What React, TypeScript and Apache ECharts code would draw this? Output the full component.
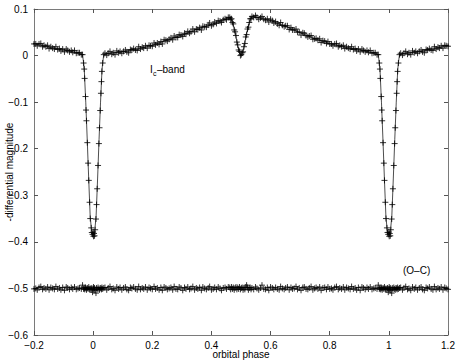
import React, { useEffect, useRef } from "react";
import * as echarts from "echarts";

// ---- model light curve (one cycle, phase -0.04 .. 0.96) ----
const modelPhase = [-0.04, -0.036, -0.033, -0.03, -0.025, -0.02, -0.015, -0.01, -0.006, -0.003, 0, 0.003, 0.006, 0.01, 0.015, 0.02, 0.025, 0.03, 0.033, 0.036, 0.045, 0.07, 0.1, 0.15, 0.2, 0.25, 0.3, 0.35, 0.4, 0.44, 0.46, 0.465, 0.47, 0.475, 0.48, 0.485, 0.49, 0.495, 0.5, 0.505, 0.51, 0.515, 0.52, 0.525, 0.53, 0.535, 0.54, 0.55, 0.6, 0.65, 0.7, 0.75, 0.8, 0.85, 0.9, 0.95, 0.96];
const modelMag = [0.004, 0.002, -0.012, -0.03, -0.1, -0.18, -0.265, -0.345, -0.372, -0.382, -0.385, -0.382, -0.372, -0.345, -0.265, -0.18, -0.1, -0.03, -0.012, 0.002, 0.004, 0.006, 0.008, 0.014, 0.022, 0.033, 0.044, 0.056, 0.067, 0.076, 0.08, 0.08, 0.074, 0.064, 0.05, 0.034, 0.018, 0.006, 0.001, 0.006, 0.018, 0.034, 0.05, 0.064, 0.075, 0.082, 0.084, 0.083, 0.075, 0.063, 0.049, 0.036, 0.026, 0.018, 0.012, 0.006, 0.004];

// ---- observations: primary eclipse ----
const eclPhase = [-0.0358, -0.0323, -0.0302, -0.0287, -0.0258, -0.024, -0.0226, -0.0196, -0.017, -0.0148, -0.0119, -0.0097, -0.0065, -0.0045, -0.002, 0, 0.0012, 0.003, 0.0048, 0.0068, 0.0096, 0.0116, 0.0137, 0.0166, 0.0195, 0.0216, 0.0239, 0.0264, 0.0281, 0.0297, 0.0323, 0.036];
const eclMag = [0.002, -0.016, -0.029, -0.049, -0.088, -0.117, -0.14, -0.187, -0.231, -0.268, -0.315, -0.35, -0.37, -0.38, -0.384, -0.379, -0.388, -0.382, -0.387, -0.374, -0.351, -0.32, -0.286, -0.236, -0.189, -0.155, -0.118, -0.081, -0.056, -0.034, -0.016, 0.002];
const eclOC = [-0.493, -0.501, -0.499, -0.502, -0.498, -0.5, -0.503, -0.499, -0.501, -0.497, -0.502, -0.5, -0.503, -0.499, -0.508, -0.501, -0.497, -0.502, -0.499, -0.504, -0.51, -0.499, -0.502, -0.498, -0.501, -0.503, -0.499, -0.5, -0.502, -0.498, -0.501, -0.499];

// ---- observations: maximum after primary ----
const maxAPhase = [0.04, 0.046, 0.051, 0.057, 0.063, 0.068, 0.074, 0.08, 0.086, 0.091, 0.097, 0.103, 0.109, 0.114, 0.12, 0.126, 0.131, 0.137, 0.143, 0.149, 0.154, 0.16, 0.166, 0.171, 0.177, 0.183, 0.189, 0.194, 0.2, 0.206, 0.211, 0.217, 0.223, 0.229, 0.234, 0.24, 0.246, 0.251, 0.257, 0.263, 0.269, 0.274, 0.28, 0.286, 0.291, 0.297, 0.303, 0.309, 0.314, 0.32, 0.326, 0.331, 0.337, 0.343, 0.349, 0.354, 0.36, 0.366, 0.371, 0.377, 0.383, 0.389, 0.394, 0.4, 0.406, 0.411, 0.417, 0.423, 0.429, 0.434, 0.44, 0.446, 0.451, 0.457];
const maxAMag = [0.005, 0.001, 0.005, 0.009, 0.003, 0.006, 0.002, 0.01, 0.006, 0.009, 0.005, 0.009, 0.012, 0.008, 0.006, 0.013, 0.012, 0.015, 0.012, 0.011, 0.019, 0.014, 0.018, 0.016, 0.021, 0.016, 0.022, 0.021, 0.02, 0.027, 0.023, 0.027, 0.024, 0.03, 0.025, 0.034, 0.033, 0.031, 0.035, 0.038, 0.034, 0.042, 0.039, 0.039, 0.045, 0.044, 0.041, 0.048, 0.046, 0.052, 0.048, 0.051, 0.057, 0.051, 0.057, 0.056, 0.06, 0.055, 0.063, 0.062, 0.061, 0.066, 0.07, 0.064, 0.067, 0.072, 0.069, 0.075, 0.074, 0.071, 0.077, 0.079, 0.077, 0.082];
const maxAOC = [-0.498, -0.503, -0.499, -0.496, -0.502, -0.5, -0.504, -0.497, -0.501, -0.498, -0.503, -0.499, -0.497, -0.502, -0.504, -0.498, -0.5, -0.497, -0.501, -0.503, -0.496, -0.502, -0.499, -0.501, -0.497, -0.503, -0.498, -0.5, -0.502, -0.496, -0.501, -0.499, -0.503, -0.498, -0.504, -0.497, -0.499, -0.502, -0.5, -0.498, -0.503, -0.496, -0.501, -0.502, -0.497, -0.499, -0.504, -0.498, -0.501, -0.497, -0.502, -0.5, -0.496, -0.503, -0.499, -0.501, -0.498, -0.504, -0.497, -0.5, -0.502, -0.499, -0.496, -0.503, -0.501, -0.498, -0.502, -0.497, -0.5, -0.504, -0.499, -0.498, -0.501, -0.497];

// ---- observations: secondary eclipse ----
const secPhase = [0.462, 0.465, 0.468, 0.471, 0.474, 0.477, 0.48, 0.483, 0.486, 0.489, 0.492, 0.495, 0.498, 0.501, 0.504, 0.507, 0.51, 0.513, 0.516, 0.519, 0.522, 0.525, 0.528, 0.531, 0.534, 0.537];
const secMag = [0.082, 0.078, 0.079, 0.071, 0.068, 0.055, 0.051, 0.043, 0.029, 0.023, 0.012, 0.009, 0.0, 0.002, 0.006, 0.008, 0.019, 0.026, 0.04, 0.045, 0.057, 0.061, 0.071, 0.079, 0.079, 0.084];
const secOC = [-0.498, -0.502, -0.497, -0.501, -0.498, -0.503, -0.499, -0.497, -0.502, -0.498, -0.501, -0.497, -0.502, -0.499, -0.498, -0.503, -0.499, -0.502, -0.497, -0.493, -0.498, -0.503, -0.499, -0.498, -0.502, -0.499];

// ---- observations: maximum after secondary ----
const maxBPhase = [0.543, 0.549, 0.554, 0.56, 0.566, 0.571, 0.577, 0.583, 0.589, 0.594, 0.6, 0.606, 0.611, 0.617, 0.623, 0.629, 0.634, 0.64, 0.646, 0.651, 0.657, 0.663, 0.669, 0.674, 0.68, 0.686, 0.691, 0.697, 0.703, 0.709, 0.714, 0.72, 0.726, 0.731, 0.737, 0.743, 0.749, 0.754, 0.76, 0.766, 0.771, 0.777, 0.783, 0.789, 0.794, 0.8, 0.806, 0.811, 0.817, 0.823, 0.829, 0.834, 0.84, 0.846, 0.851, 0.857, 0.863, 0.869, 0.874, 0.88, 0.886, 0.891, 0.897, 0.903, 0.909, 0.914, 0.92, 0.926, 0.931, 0.937, 0.943, 0.949, 0.954, 0.96];
const maxBMag = [0.082, 0.086, 0.082, 0.078, 0.081, 0.084, 0.078, 0.076, 0.079, 0.072, 0.078, 0.075, 0.07, 0.073, 0.068, 0.065, 0.071, 0.065, 0.062, 0.064, 0.064, 0.056, 0.06, 0.055, 0.055, 0.057, 0.05, 0.051, 0.044, 0.049, 0.048, 0.043, 0.04, 0.042, 0.043, 0.035, 0.036, 0.037, 0.033, 0.036, 0.028, 0.032, 0.031, 0.026, 0.03, 0.025, 0.025, 0.021, 0.025, 0.026, 0.019, 0.022, 0.019, 0.022, 0.015, 0.019, 0.016, 0.014, 0.019, 0.013, 0.015, 0.01, 0.014, 0.008, 0.014, 0.011, 0.008, 0.011, 0.007, 0.011, 0.005, 0.006, 0.006, 0.002];
const maxBOC = [-0.502, -0.497, -0.5, -0.503, -0.499, -0.493, -0.501, -0.502, -0.498, -0.504, -0.497, -0.499, -0.502, -0.498, -0.501, -0.503, -0.496, -0.5, -0.502, -0.499, -0.497, -0.503, -0.498, -0.501, -0.5, -0.496, -0.502, -0.499, -0.504, -0.498, -0.497, -0.501, -0.502, -0.499, -0.496, -0.503, -0.5, -0.498, -0.501, -0.497, -0.504, -0.499, -0.498, -0.502, -0.497, -0.501, -0.5, -0.503, -0.498, -0.496, -0.502, -0.499, -0.501, -0.497, -0.503, -0.498, -0.5, -0.502, -0.496, -0.501, -0.499, -0.503, -0.498, -0.504, -0.497, -0.499, -0.502, -0.498, -0.501, -0.497, -0.502, -0.5, -0.499, -0.501];

const xTicks = { min: -0.2, max: 1.2, interval: 0.2 };
const yTicks = { min: -0.6, max: 0.1, interval: 0.1 };
const xTitle = "orbital phase";
const yTitle = "-differential magnitude";

const FONT = "'Liberation Sans', Arial, Helvetica, sans-serif";
const PLUS = "path://M0,5H10M5,0V10";

function fold(ph: number[], vals: number[], lo: number, hi: number) {
  const out: number[][] = [];
  for (const k of [-1, 0, 1]) {
    for (let i = 0; i < ph.length; i++) {
      const p = ph[i] + k;
      if (p >= lo && p <= hi) out.push([p, vals[i]]);
    }
  }
  return out;
}

const fmt = (v: number) => {
  const r = Math.round(v * 10) / 10;
  if (r === 0) return "0";
  return String(r).replace("-", "\u2212");
};

export default function App() {
  const ref = useRef<HTMLDivElement>(null);
  useEffect(() => {
    document.body.style.margin = "0";
    if (!ref.current) return;
    const chart = echarts.init(ref.current, undefined, { renderer: "svg" });

    const allPhase = [...eclPhase, ...maxAPhase, ...secPhase, ...maxBPhase];
    const allMag = [...eclMag, ...maxAMag, ...secMag, ...maxBMag];
    const allOC = [...eclOC, ...maxAOC, ...secOC, ...maxBOC];

    const obs = fold(allPhase, allMag, -0.2, 1.2);
    const oc = fold(allPhase, allOC, -0.2, 1.2);
    const model = fold(modelPhase, modelMag, -0.3, 1.3);

    const axisLine = { show: true, onZero: false, lineStyle: { color: "#7a7a7a", width: 1 } };
    const axisTick = { show: true, inside: true, length: 4, lineStyle: { color: "#555", width: 1 } };
    const label = { color: "#000", fontSize: 10, fontFamily: FONT, formatter: fmt };

    const plusStyle = { color: "none", borderColor: "#000", borderWidth: 1 };
    const txt = { fontSize: 10, fontFamily: FONT, fill: "#000" };

    chart.setOption({
      animation: false,
      backgroundColor: "#fff",
      grid: { left: 34, top: 9, width: 414, height: 326, containLabel: false, outerBoundsMode: "none" },
      xAxis: [
        {
          type: "value", ...xTicks, position: "bottom",
          axisLine, axisTick, splitLine: { show: false },
          axisLabel: { ...label, margin: 5 },
        },
        {
          type: "value", ...xTicks, position: "top",
          axisLine, axisTick, splitLine: { show: false }, axisLabel: { show: false },
        },
      ],
      yAxis: [
        {
          type: "value", ...yTicks, position: "left",
          axisLine, axisTick, splitLine: { show: false },
          axisLabel: { ...label, margin: 6 },
        },
        {
          type: "value", ...yTicks, position: "right",
          axisLine, axisTick, splitLine: { show: false }, axisLabel: { show: false },
        },
      ],
      series: [
        {
          type: "line", data: model, xAxisIndex: 0, yAxisIndex: 0,
          showSymbol: false, symbol: "none", clip: true,
          lineStyle: { color: "#000", width: 0.7 }, z: 3,
        },
        {
          type: "scatter", data: obs, symbol: PLUS, symbolSize: 6,
          itemStyle: plusStyle, z: 2,
        },
        {
          type: "scatter", data: oc, symbol: PLUS, symbolSize: 6,
          itemStyle: plusStyle, z: 2,
        },
      ],
      graphic: [
        { type: "text", x: 241, y: 354, style: { ...txt, text: xTitle, align: "center", verticalAlign: "middle" } },
        { type: "text", x: 9, y: 172, rotation: Math.PI / 2, style: { ...txt, text: yTitle, align: "center", verticalAlign: "middle" } },
        { type: "text", left: 150, top: 64, style: { ...txt, text: "I" } },
        { type: "text", left: 153, top: 70, style: { ...txt, text: "c", fontSize: 7 } },
        { type: "text", left: 157, top: 64, style: { ...txt, text: "\u2013band" } },
        { type: "text", left: 403, top: 265, style: { ...txt, text: "(O\u2013C)" } },
      ],
    });
    return () => chart.dispose();
  }, []);
  return <div ref={ref} style={{ width: 458, height: 360 }} />;
}
